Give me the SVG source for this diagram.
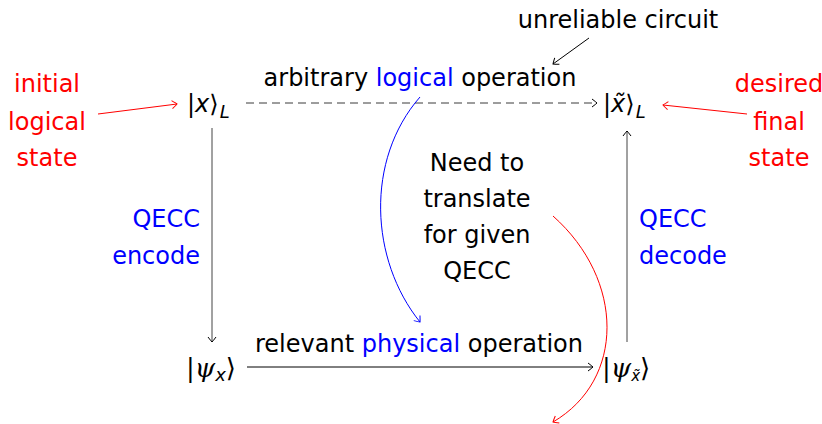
<svg xmlns="http://www.w3.org/2000/svg" width="822" height="424" viewBox="0 0 822 424">
  <defs>
    <marker id="toK" viewBox="-6 -5 8 10" markerWidth="8" markerHeight="10" refX="0" refY="0" orient="auto" markerUnits="userSpaceOnUse">
      <path d="M-5,-4 Q-1,-1 0,0 Q-1,1 -5,4" fill="none" stroke="#000" stroke-width="1"/>
    </marker>
    <marker id="toR" viewBox="-6 -5 8 10" markerWidth="8" markerHeight="10" refX="0" refY="0" orient="auto" markerUnits="userSpaceOnUse">
      <path d="M-5,-4 Q-1,-1 0,0 Q-1,1 -5,4" fill="none" stroke="#ff0000" stroke-width="1"/>
    </marker>
    <marker id="toB" viewBox="-6 -5 8 10" markerWidth="8" markerHeight="10" refX="0" refY="0" orient="auto" markerUnits="userSpaceOnUse">
      <path d="M-5,-4 Q-1,-1 0,0 Q-1,1 -5,4" fill="none" stroke="#0000ff" stroke-width="1"/>
    </marker>
  </defs>
  <style>
    text { font-family: "DejaVu Sans", "Liberation Sans", sans-serif; font-size: 24px; fill: #000; }
    .red { fill: #ff0000; }
    .blue { fill: #0000ff; }
    .mid { text-anchor: middle; }
    .end { text-anchor: end; }
    .it { font-style: italic; }
    .math { font-family: "DejaVu Serif", "Liberation Serif", serif; font-size: 26px; }
    .sub { font-size: 18px; font-family: "DejaVu Sans", sans-serif; }
    .edge { fill: none; stroke-width: 1; }
    .k { stroke: #000; }
    .g { stroke: #444; }
    .r { stroke: #ff0000; }
    .b { stroke: #0000ff; }
    .dash { stroke: #3a3a3a; stroke-dasharray: 8 5; }
  </style>

  <!-- states -->
  <g id="logical-in">
    <text x="187" y="112">|<tspan class="it">x</tspan>⟩<tspan class="it sub" dx="1" dy="6">L</tspan></text>
  </g>
  <g id="logical-out">
    <text x="603" y="112">|<tspan class="it">x̃</tspan>⟩<tspan class="it sub" dx="1" dy="6">L</tspan></text>
  </g>
  <g id="physical-in">
    <text x="186" y="377" class="math">|<tspan class="it">ψ</tspan><tspan class="it sub" dy="4">x</tspan><tspan dy="-4">⟩</tspan></text>
  </g>
  <g id="physical-out">
    <text x="602" y="377" class="math">|<tspan class="it">ψ</tspan><tspan class="it sub" dy="4" style="font-size:15px">x̃</tspan><tspan dy="-4">⟩</tspan></text>
  </g>

  <!-- side notes -->
  <g id="initial-label">
    <text x="47" y="92" class="mid red">initial</text>
    <text x="47" y="130" class="mid red">logical</text>
    <text x="47" y="166" class="mid red">state</text>
  </g>
  <g id="final-label">
    <text x="779" y="92" class="mid red">desired</text>
    <text x="779" y="130" class="mid red">final</text>
    <text x="779" y="166" class="mid red">state</text>
  </g>
  <g id="unreliable-label">
    <text x="618" y="28" class="mid">unreliable circuit</text>
  </g>
  <g id="translate-note">
    <text x="477" y="171" class="mid">Need to</text>
    <text x="477" y="207" class="mid">translate</text>
    <text x="477" y="243" class="mid">for given</text>
    <text x="477" y="279" class="mid">QECC</text>
  </g>

  <!-- connectors and their labels -->
  <g id="connectors">
    <path class="edge dash" d="M246,103 H597" marker-end="url(#toK)"/>
    <path class="edge g" d="M212,128 V342" marker-end="url(#toK)"/>
    <path class="edge g" d="M627,342 V131" marker-end="url(#toK)"/>
    <path class="edge k" d="M247,367 H593" marker-end="url(#toK)"/>
    <path class="edge r" d="M98,114 L177,104" marker-end="url(#toR)"/>
    <path class="edge r" d="M747,114 L663,105" marker-end="url(#toR)"/>
    <path class="edge k" d="M589,38 L553,64" marker-end="url(#toK)"/>
    <path class="edge b" d="M420,97 C365,160 370,260 420,322" marker-end="url(#toB)"/>
    <path class="edge r" d="M553,216 C625,280 625,380 553,422" marker-end="url(#toR)"/>

    <text x="420" y="86" class="mid">arbitrary <tspan class="blue">logical</tspan> operation</text>
    <text x="419" y="352" class="mid">relevant <tspan class="blue">physical</tspan> operation</text>
    <text x="200" y="227" class="end blue">QECC</text>
    <text x="200" y="264" class="end blue">encode</text>
    <text x="639" y="227" class="blue">QECC</text>
    <text x="639" y="264" class="blue">decode</text>
  </g>
</svg>
